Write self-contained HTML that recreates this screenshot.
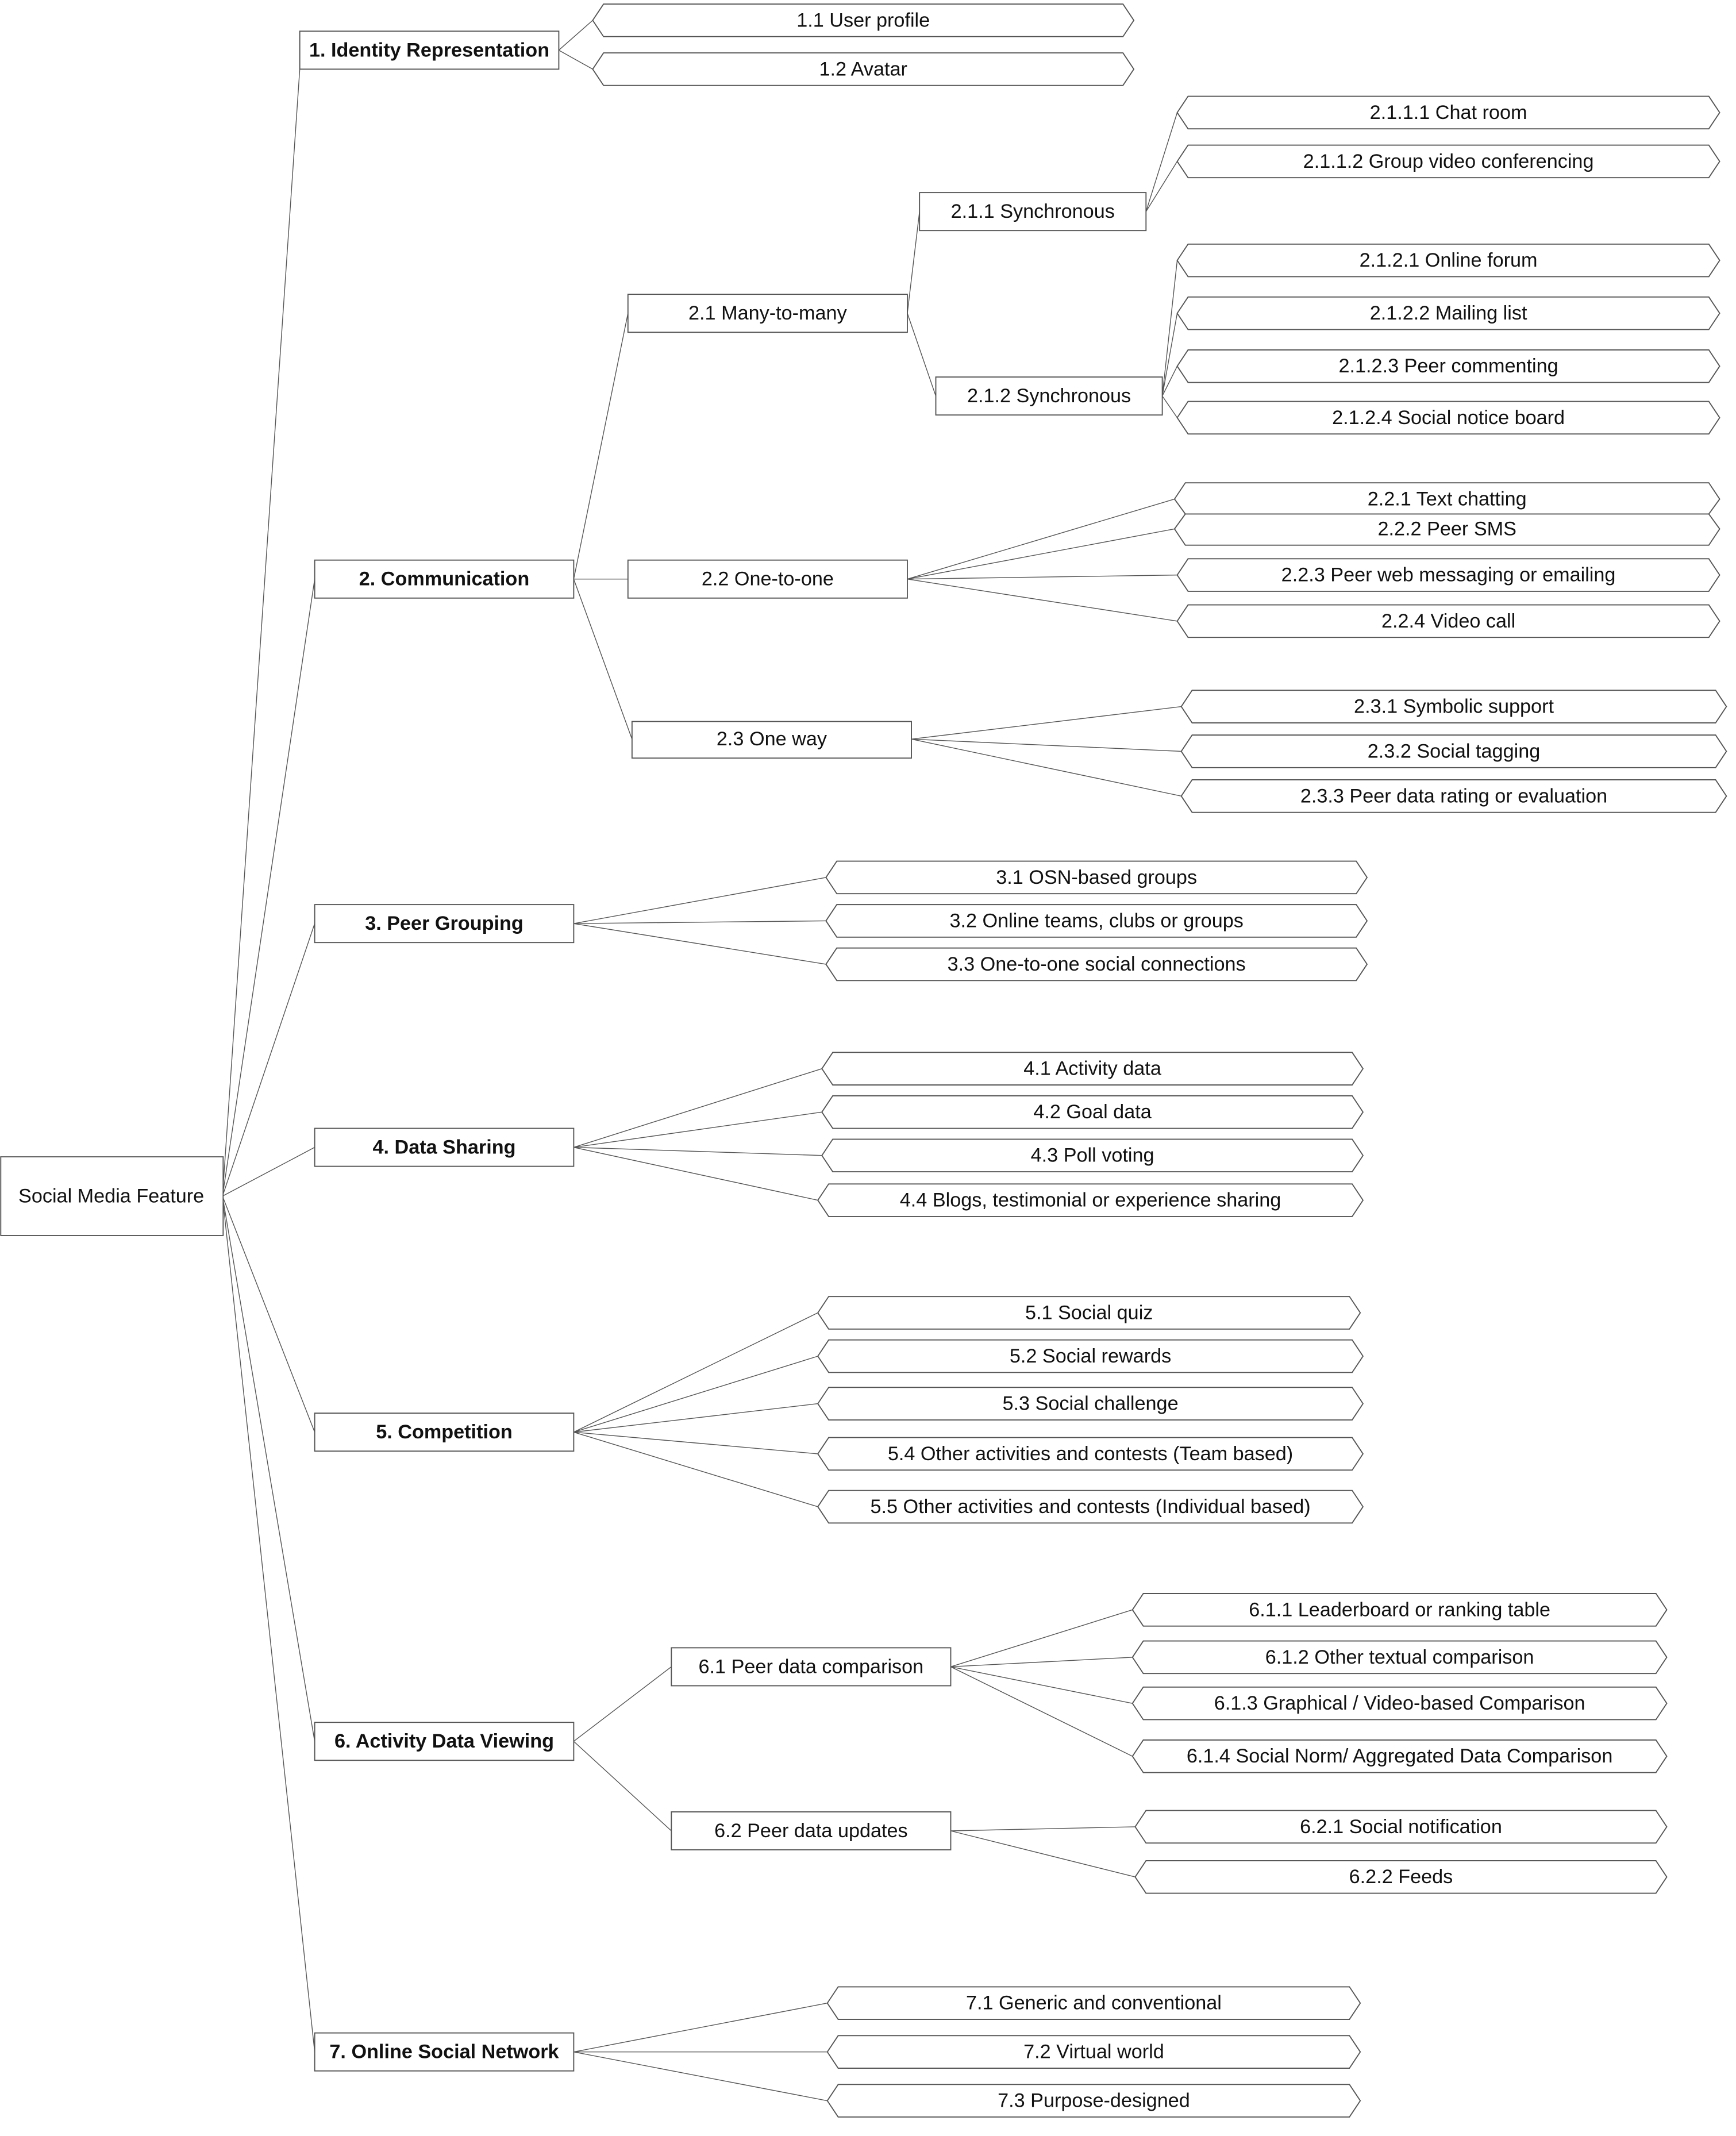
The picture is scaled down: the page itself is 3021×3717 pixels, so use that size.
<!DOCTYPE html>
<html><head><meta charset="utf-8"><style>
html,body{margin:0;padding:0;background:#fff}
svg{display:block}
text{font-family:"Liberation Sans",sans-serif;font-size:14.5px;fill:#111;text-anchor:middle;dominant-baseline:central}
.b{font-weight:bold}
rect,polygon{fill:#fff;stroke:#555;stroke-width:0.8}
line{stroke:#555;stroke-width:0.6}
</style></head><body>
<svg width="3021" height="3717" viewBox="0 0 1280 1575" xmlns="http://www.w3.org/2000/svg">
<g>
<!-- root lines -->
<line x1="164" y1="882" x2="221" y2="51"/>
<line x1="164" y1="882" x2="232" y2="427"/>
<line x1="164" y1="882" x2="232" y2="681"/>
<line x1="164" y1="882" x2="232" y2="846"/>
<line x1="164" y1="882" x2="232" y2="1056"/>
<line x1="164" y1="882" x2="232" y2="1284"/>
<line x1="164" y1="882" x2="232" y2="1513"/>
<!-- 1 -->
<line x1="412" y1="37" x2="437" y2="15"/>
<line x1="412" y1="37" x2="437" y2="51"/>
<!-- 2 -->
<line x1="423" y1="427" x2="463" y2="231"/>
<line x1="423" y1="427" x2="463" y2="427"/>
<line x1="423" y1="427" x2="466" y2="545"/>
<line x1="669" y1="231" x2="678" y2="156"/>
<line x1="669" y1="231" x2="690" y2="292"/>
<line x1="845" y1="156" x2="868" y2="83"/>
<line x1="845" y1="156" x2="868" y2="119"/>
<line x1="857" y1="292" x2="868" y2="192"/>
<line x1="857" y1="292" x2="868" y2="231"/>
<line x1="857" y1="292" x2="868" y2="270"/>
<line x1="857" y1="292" x2="868" y2="308"/>
<line x1="669" y1="427" x2="866" y2="368"/>
<line x1="669" y1="427" x2="866" y2="390"/>
<line x1="669" y1="427" x2="868" y2="424"/>
<line x1="669" y1="427" x2="868" y2="458"/>
<line x1="672" y1="545" x2="871" y2="521"/>
<line x1="672" y1="545" x2="871" y2="554"/>
<line x1="672" y1="545" x2="871" y2="587"/>
<!-- 3 -->
<line x1="423" y1="681" x2="609" y2="647"/>
<line x1="423" y1="681" x2="609" y2="679"/>
<line x1="423" y1="681" x2="609" y2="711"/>
<!-- 4 -->
<line x1="423" y1="846" x2="606" y2="788"/>
<line x1="423" y1="846" x2="606" y2="820"/>
<line x1="423" y1="846" x2="606" y2="852"/>
<line x1="423" y1="846" x2="603" y2="885"/>
<!-- 5 -->
<line x1="423" y1="1056" x2="603" y2="968"/>
<line x1="423" y1="1056" x2="603" y2="1000"/>
<line x1="423" y1="1056" x2="603" y2="1035"/>
<line x1="423" y1="1056" x2="603" y2="1072"/>
<line x1="423" y1="1056" x2="603" y2="1111"/>
<!-- 6 -->
<line x1="423" y1="1284" x2="495" y2="1229"/>
<line x1="423" y1="1284" x2="495" y2="1350"/>
<line x1="701" y1="1229" x2="835" y2="1187"/>
<line x1="701" y1="1229" x2="835" y2="1222"/>
<line x1="701" y1="1229" x2="835" y2="1256"/>
<line x1="701" y1="1229" x2="835" y2="1295"/>
<line x1="701" y1="1350" x2="837" y2="1347"/>
<line x1="701" y1="1350" x2="837" y2="1384"/>
<!-- 7 -->
<line x1="423" y1="1513" x2="610" y2="1477"/>
<line x1="423" y1="1513" x2="610" y2="1513"/>
<line x1="423" y1="1513" x2="610" y2="1549"/>
</g>

<!-- root -->
<rect x="0.5" y="853" width="164" height="58"/><text x="82" y="882">Social Media Feature</text>
<!-- level 1 -->
<rect x="221" y="23" width="191" height="28"/><text class="b" x="316.5" y="37">1. Identity Representation</text>
<rect x="232" y="413" width="191" height="28"/><text class="b" x="327.5" y="427">2. Communication</text>
<rect x="232" y="667" width="191" height="28"/><text class="b" x="327.5" y="681">3. Peer Grouping</text>
<rect x="232" y="832" width="191" height="28"/><text class="b" x="327.5" y="846">4. Data Sharing</text>
<rect x="232" y="1042" width="191" height="28"/><text class="b" x="327.5" y="1056">5. Competition</text>
<rect x="232" y="1270" width="191" height="28"/><text class="b" x="327.5" y="1284">6. Activity Data Viewing</text>
<rect x="232" y="1499" width="191" height="28"/><text class="b" x="327.5" y="1513">7. Online Social Network</text>
<!-- level 2 rects -->
<rect x="463" y="217" width="206" height="28"/><text x="566" y="231">2.1 Many-to-many</text>
<rect x="463" y="413" width="206" height="28"/><text x="566" y="427">2.2 One-to-one</text>
<rect x="466" y="532" width="206" height="27"/><text x="569" y="545">2.3 One way</text>
<rect x="678" y="142" width="167" height="28"/><text x="761.5" y="156">2.1.1 Synchronous</text>
<rect x="690" y="278" width="167" height="28"/><text x="773.5" y="292">2.1.2 Synchronous</text>
<rect x="495" y="1215" width="206" height="28"/><text x="598" y="1229">6.1 Peer data comparison</text>
<rect x="495" y="1336" width="206" height="28"/><text x="598" y="1350">6.2 Peer data updates</text>

<!-- hexagons -->
<polygon points="437,15 445,3 828,3 836,15 828,27 445,27"/><text x="636.5" y="15">1.1 User profile</text>
<polygon points="437,51 445,39 828,39 836,51 828,63 445,63"/><text x="636.5" y="51">1.2 Avatar</text>

<polygon points="868,83 876,71 1260,71 1268,83 1260,95 876,95"/><text x="1068" y="83">2.1.1.1 Chat room</text>
<polygon points="868,119 876,107 1260,107 1268,119 1260,131 876,131"/><text x="1068" y="119">2.1.1.2 Group video conferencing</text>
<polygon points="868,192 876,180 1260,180 1268,192 1260,204 876,204"/><text x="1068" y="192">2.1.2.1 Online forum</text>
<polygon points="868,231 876,219 1260,219 1268,231 1260,243 876,243"/><text x="1068" y="231">2.1.2.2 Mailing list</text>
<polygon points="868,270 876,258 1260,258 1268,270 1260,282 876,282"/><text x="1068" y="270">2.1.2.3 Peer commenting</text>
<polygon points="868,308 876,296 1260,296 1268,308 1260,320 876,320"/><text x="1068" y="308">2.1.2.4 Social notice board</text>

<polygon points="866,368 874,356 1260,356 1268,368 1260,379 874,379"/><text x="1067" y="368">2.2.1 Text chatting</text>
<polygon points="866,390 874,379 1260,379 1268,390 1260,402 874,402"/><text x="1067" y="390">2.2.2 Peer SMS</text>
<polygon points="868,424 876,412 1260,412 1268,424 1260,436 876,436"/><text x="1068" y="424">2.2.3 Peer web messaging or emailing</text>
<polygon points="868,458 876,446 1260,446 1268,458 1260,470 876,470"/><text x="1068" y="458">2.2.4 Video call</text>

<polygon points="871,521 879,509 1265,509 1273,521 1265,533 879,533"/><text x="1072" y="521">2.3.1 Symbolic support</text>
<polygon points="871,554 879,542 1265,542 1273,554 1265,566 879,566"/><text x="1072" y="554">2.3.2 Social tagging</text>
<polygon points="871,587 879,575 1265,575 1273,587 1265,599 879,599"/><text x="1072" y="587">2.3.3 Peer data rating or evaluation</text>

<polygon points="609,647 617,635 1000,635 1008,647 1000,659 617,659"/><text x="808.5" y="647">3.1 OSN-based groups</text>
<polygon points="609,679 617,667 1000,667 1008,679 1000,691 617,691"/><text x="808.5" y="679">3.2 Online teams, clubs or groups</text>
<polygon points="609,711 617,699 1000,699 1008,711 1000,723 617,723"/><text x="808.5" y="711">3.3 One-to-one social connections</text>

<polygon points="606,788 614,776 997,776 1005,788 997,800 614,800"/><text x="805.5" y="788">4.1 Activity data</text>
<polygon points="606,820 614,808 997,808 1005,820 997,832 614,832"/><text x="805.5" y="820">4.2 Goal data</text>
<polygon points="606,852 614,840 997,840 1005,852 997,864 614,864"/><text x="805.5" y="852">4.3 Poll voting</text>
<polygon points="603,885 611,873 997,873 1005,885 997,897 611,897"/><text x="804" y="885">4.4 Blogs, testimonial or experience sharing</text>

<polygon points="603,968 611,956 995,956 1003,968 995,980 611,980"/><text x="803" y="968">5.1 Social quiz</text>
<polygon points="603,1000 611,988 997,988 1005,1000 997,1012 611,1012"/><text x="804" y="1000">5.2 Social rewards</text>
<polygon points="603,1035 611,1023 997,1023 1005,1035 997,1047 611,1047"/><text x="804" y="1035">5.3 Social challenge</text>
<polygon points="603,1072 611,1060 997,1060 1005,1072 997,1084 611,1084"/><text x="804" y="1072">5.4 Other activities and contests (Team based)</text>
<polygon points="603,1111 611,1099 997,1099 1005,1111 997,1123 611,1123"/><text x="804" y="1111">5.5 Other activities and contests (Individual based)</text>

<polygon points="835,1187 843,1175 1221,1175 1229,1187 1221,1199 843,1199"/><text x="1032" y="1187">6.1.1 Leaderboard or ranking table</text>
<polygon points="835,1222 843,1210 1221,1210 1229,1222 1221,1234 843,1234"/><text x="1032" y="1222">6.1.2 Other textual comparison</text>
<polygon points="835,1256 843,1244 1221,1244 1229,1256 1221,1268 843,1268"/><text x="1032" y="1256">6.1.3 Graphical / Video-based Comparison</text>
<polygon points="835,1295 843,1283 1221,1283 1229,1295 1221,1307 843,1307"/><text x="1032" y="1295">6.1.4 Social Norm/ Aggregated Data Comparison</text>
<polygon points="837,1347 845,1335 1221,1335 1229,1347 1221,1359 845,1359"/><text x="1033" y="1347">6.2.1 Social notification</text>
<polygon points="837,1384 845,1372 1221,1372 1229,1384 1221,1396 845,1396"/><text x="1033" y="1384">6.2.2 Feeds</text>

<polygon points="610,1477 618,1465 995,1465 1003,1477 995,1489 618,1489"/><text x="806.5" y="1477">7.1 Generic and conventional</text>
<polygon points="610,1513 618,1501 995,1501 1003,1513 995,1525 618,1525"/><text x="806.5" y="1513">7.2 Virtual world</text>
<polygon points="610,1549 618,1537 995,1537 1003,1549 995,1561 618,1561"/><text x="806.5" y="1549">7.3 Purpose-designed</text>
</svg>
</body></html>
